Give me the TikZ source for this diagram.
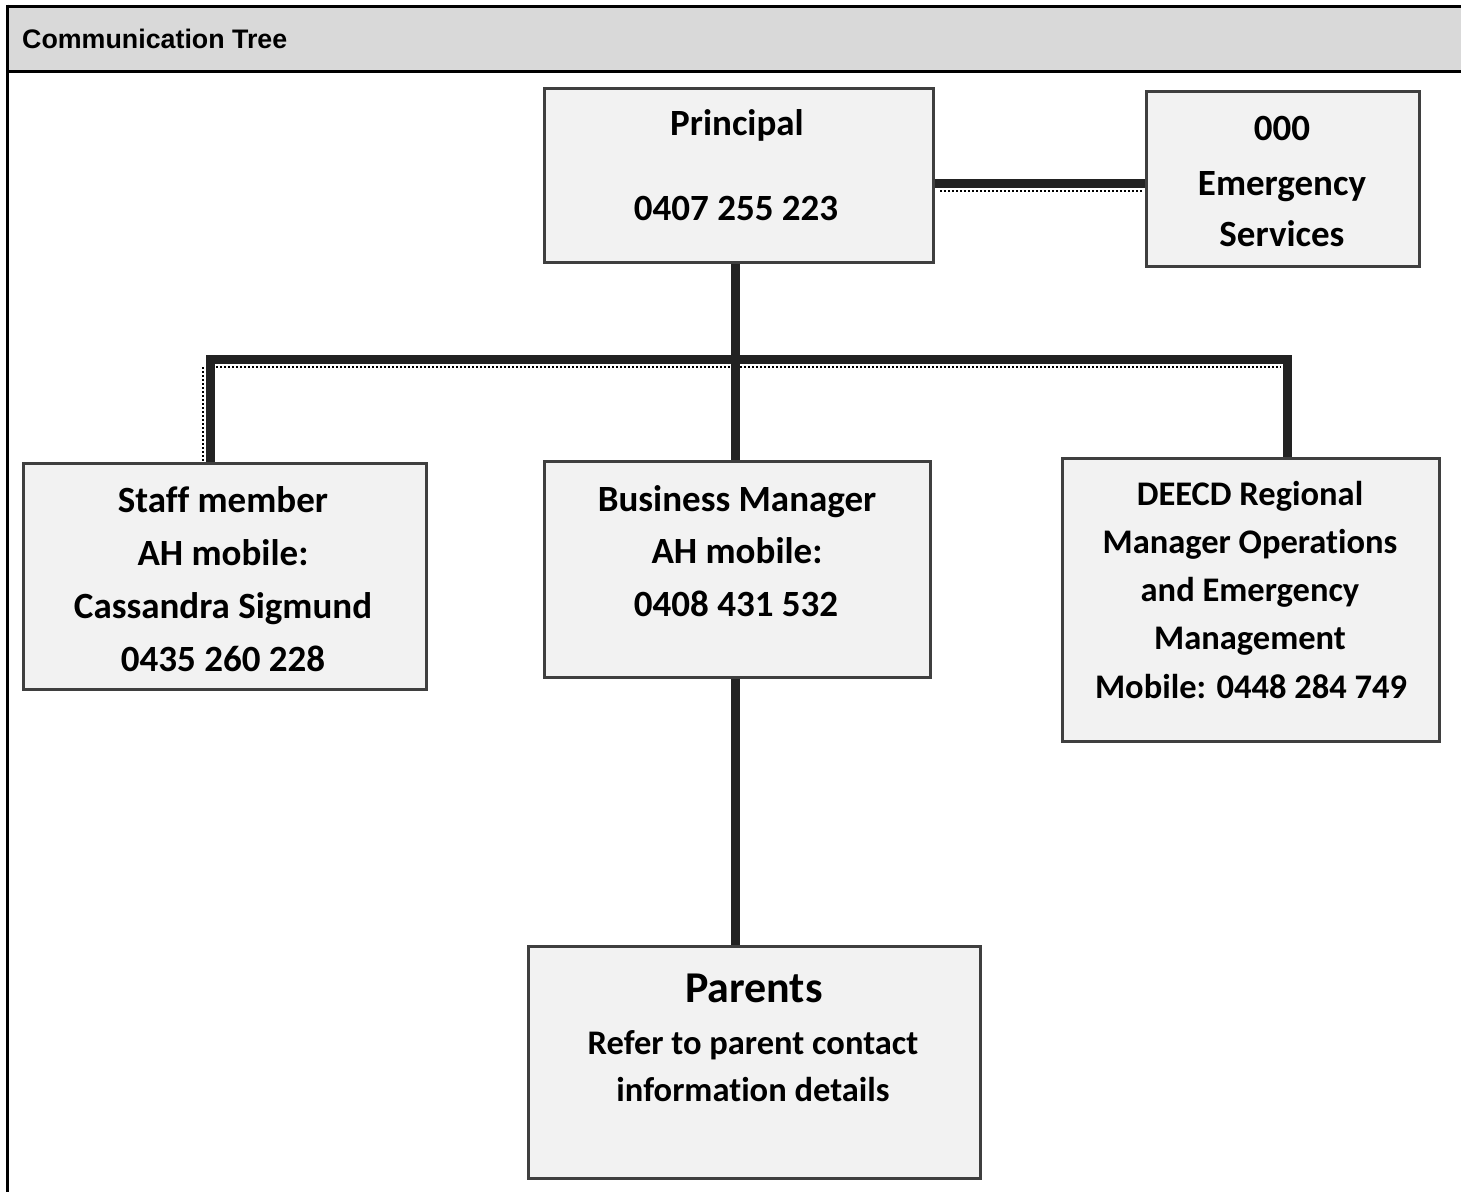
\documentclass[tikz,border=0pt]{standalone}
\usepackage{fontspec}
\setmainfont[Ligatures=NoCommon]{Carlito}
\newfontfamily\headfont{Liberation Sans}
\definecolor{boxfill}{HTML}{F2F2F2}
\definecolor{boxline}{HTML}{3F3F3F}
\definecolor{headfill}{HTML}{D9D9D9}
\definecolor{conn}{HTML}{222222}
\tikzset{
  cbox/.style={draw=boxline, line width=3pt, fill=boxfill, rectangle, inner sep=0pt},
  txt/.style={anchor=base, font=\bfseries\fontsize{37}{42}\selectfont, inner sep=0pt},
  smalltxt/.style={anchor=base, font=\bfseries\fontsize{34.5}{39}\selectfont, inner sep=0pt},
  link/.style={draw=conn, line width=9pt},
  shade/.style={draw=black, line width=2pt, dotted}
}
\begin{document}
\begin{tikzpicture}[x=1pt,y=-1pt]
\useasboundingbox (0,0) rectangle (1461,1192);
\fill[white] (0,0) rectangle (1461,1192);
% header
\fill[headfill] (7,6) rectangle (1461,71);
\draw[black, line width=3pt] (7,6) -- (1461,6);
\draw[black, line width=3pt] (7,71) -- (1461,71);
\draw[black, line width=3pt] (7,4.5) -- (7,1192);
\node[anchor=base west, inner sep=0pt, font=\headfont\bfseries\fontsize{26.8}{30}\selectfont] (title) at (22,48) {Communication Tree};

% boxes
\node[cbox, minimum width=389pt, minimum height=174pt] (principal) at (738.5,175) {};
\node[cbox, minimum width=273pt, minimum height=175pt] (emerg) at (1282.5,178.5) {};
\node[cbox, minimum width=403pt, minimum height=226pt] (staff) at (224.5,576) {};
\node[cbox, minimum width=386pt, minimum height=216pt] (business) at (737,569) {};
\node[cbox, minimum width=377pt, minimum height=283pt] (deecd) at (1250.5,599.5) {};
\node[cbox, minimum width=452pt, minimum height=232pt] (parents) at (754,1062) {};

% connectors
\coordinate (busL) at (210,359);
\coordinate (busR) at (1287,359);
\coordinate (busM) at (735,359);
\draw[shade] (940,191) -- (1142,191);
\draw[shade] (216,367) -- (1281,367);
\draw[shade] (203,367) -- (203,461);
\draw[link] ([yshift=-8pt]principal.east) -- ([yshift=-8pt]principal.east -| emerg.west);
\draw[link] (principal.south -| busM) -- (busM);
\draw[link, line cap=rect] (busL) -- (busR);
\draw[link] (busL) -- (busL |- staff.north);
\draw[link] (busM) -- (busM |- business.north);
\draw[link] (busR) -- (busR |- deecd.north);
\draw[link] (business.south -| busM) -- (busM |- parents.north);

% texts
\node[txt] (p1) at (737,135) {Principal};
\node[txt] (p2) at (736,220) {0407 255 223};
\node[txt] (e1) at (1282,140) {000};
\node[txt] (e2) at (1282,195) {Emergency};
\node[txt] (e3) at (1282,246) {Services};
\node[txt] (s1) at (223,512) {Staff member};
\node[txt] (s2) at (223,565) {AH mobile:};
\node[txt] (s3) at (223,618) {Cassandra Sigmund};
\node[txt] (s4) at (223,671) {0435 260 228};
\node[txt] (b1) at (737,511) {Business Manager};
\node[txt] (b2) at (737,563) {AH mobile:};
\node[txt] (b3) at (736,616) {0408 431 532};
\node[smalltxt] (d1) at (1250,505) {DEECD Regional};
\node[smalltxt] (d2) at (1250,553) {Manager Operations};
\node[smalltxt] (d3) at (1250,601) {and Emergency};
\node[smalltxt] (d4) at (1250,649) {Management};
\node[smalltxt] (d5) at (1251,698) {Mobile: 0448 284 749};
\node[txt, font=\bfseries\fontsize{44}{48}\selectfont] (r1) at (754,1002) {Parents};
\node[smalltxt] (r2) at (753,1054) {Refer to parent contact};
\node[smalltxt] (r3) at (753,1101) {information details};
\end{tikzpicture}
\end{document}
